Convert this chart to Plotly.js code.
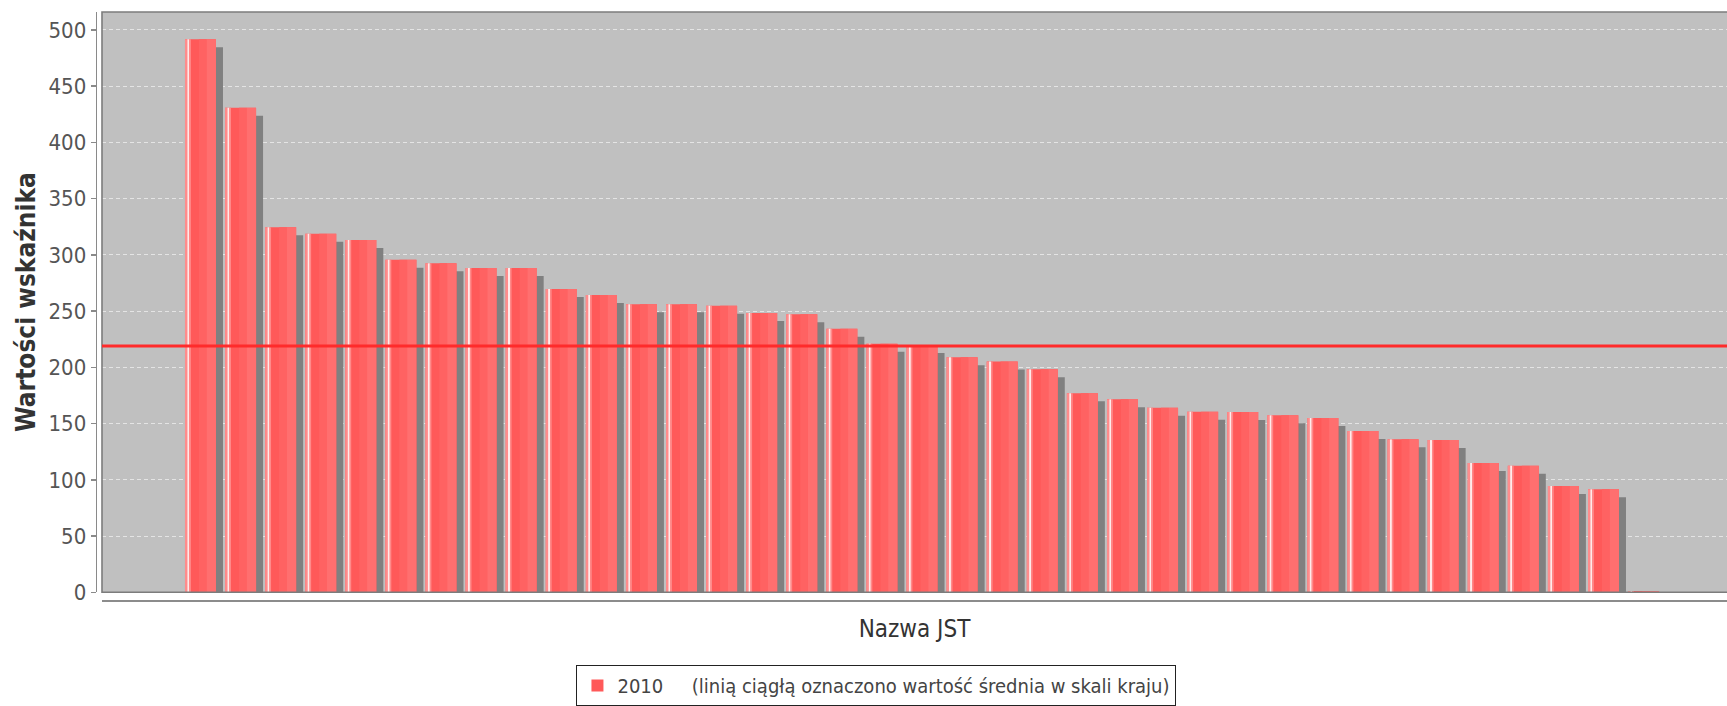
<!DOCTYPE html>
<html>
<head>
<meta charset="utf-8">
<script src="https://cdn.plot.ly/plotly-3.0.1.min.js"></script>
<style>
  html, body { margin: 0; padding: 0; background: #ffffff; }
  #chart { width: 1727px; height: 706px; }
</style>
</head>
<body>
<div id="chart"></div>
<script>
// ---- data ----
const categories = ["1","2","3","4","5","6","7","8","9","10","11","12","13","14","15","16","17","18","19",
  "20","21","22","23","24","25","26","27","28","29","30","31","32","33","34","35","36","37"];
const values2010 = [491.7, 430.9, 324.6, 318.9, 313.3, 295.7, 292.5, 288.4, 288.4, 269.7,
  264.3, 256.1, 256.1, 254.8, 248.4, 247.2, 234.4, 221.1, 219.8, 209.0,
  205.2, 198.3, 177.0, 171.6, 164.1, 160.6, 160.3, 157.4, 155.0, 143.4,
  136.0, 135.4, 115.0, 112.6, 94.5, 91.6, 1.2];
const nationalMean = 219.0;
const seriesName = "2010";
const legendNote = "(linią ciągłą oznaczono wartość średnia w skali kraju)";
const xAxisTitle = "Nazwa JST";
const yAxisTitle = "Wartości wskaźnika";
const yTicks = [0, 50, 100, 150, 200, 250, 300, 350, 400, 450, 500];

// ---- styling ----
const FONT = '"DejaVu Sans Condensed", "Liberation Sans", sans-serif';
const barW = 0.7733;          // bar width in category units
const shadowDX = 0.1746;      // shadow shift (category units)
const shadowDY = 7.12;        // shadow drop (value units)

function layer(x0frac, x1frac, color, extra) {
  return Object.assign({
    type: 'bar', x: categories, y: values2010,
    width: barW * (x1frac - x0frac),
    offset: -barW / 2 + barW * x0frac,
    marker: { color: color, line: { width: 0 } },
    hoverinfo: 'skip', showlegend: false
  }, extra || {});
}

const traces = [
  // shadow
  {
    type: 'bar', x: categories, y: values2010.map(v => Math.max(v - shadowDY, 0)),
    width: barW, offset: -barW / 2 + shadowDX,
    marker: { color: '#808080', line: { width: 0 } },
    hoverinfo: 'skip', showlegend: false
  },
  layer(0, 1, '#ff5959', { showlegend: true,
    name: seriesName + '\u00A0\u00A0\u00A0\u00A0\u00A0' + legendNote }),
  layer(0.45, 0.70, '#ff6262'),
  layer(0.70, 1.0, '#ff6f6f'),
  layer(0.0, 0.075, '#ff8c8c'),
  layer(0.075, 0.14, '#ffeaea'),
  layer(0.14, 0.19, '#ff8a8a')
];

const xDom0 = 102 / 1727;
const layout = {
  width: 1727, height: 706,
  margin: { l: 0, r: 0, t: 0, b: 0, pad: 0 },
  paper_bgcolor: '#ffffff',
  plot_bgcolor: '#c0c0c0',
  barmode: 'overlay',
  font: { family: FONT, color: '#444' },
  xaxis: {
    type: 'category', domain: [xDom0, 1], range: [-2.457, 38.081],
    anchor: 'free', position: 0.1494,
    showline: true, linecolor: '#8c8c8c', linewidth: 2,
    showgrid: false, zeroline: false, showticklabels: false, ticks: '',
    title: { text: xAxisTitle, font: { family: FONT, size: 24, color: '#333' }, standoff: 19 },
    fixedrange: true
  },
  yaxis: {
    domain: [0.16105, 0.983], range: [0, 516],
    anchor: 'free', position: 0.0554,
    showline: true, linecolor: '#8a8a8a', linewidth: 1.5,
    ticks: 'outside', ticklen: 5, tickwidth: 1.5, tickcolor: '#8a8a8a',
    tickmode: 'array', tickvals: yTicks, ticktext: yTicks.map(String),
    tickfont: { family: FONT, size: 22, color: '#555' },
    showgrid: true, gridcolor: '#e4e4e4', gridwidth: 1, griddash: '4px,3px',
    zeroline: false,
    title: { text: yAxisTitle, font: { family: FONT, size: 26, color: '#333', weight: 'bold' }, standoff: 4 },
    fixedrange: true
  },
  shapes: [
    { type: 'rect', xref: 'paper', yref: 'paper', x0: xDom0, x1: 1.01, y0: 0.16105, y1: 0.983,
      line: { color: '#7c7c7c', width: 1.6 }, fillcolor: 'rgba(0,0,0,0)', layer: 'above' },
    { type: 'line', xref: 'paper', yref: 'y', x0: xDom0, x1: 1, y0: nationalMean, y1: nationalMean,
      line: { color: '#ff2b2b', width: 3 }, layer: 'above' }
  ],
  showlegend: true,
  legend: {
    orientation: 'h', x: 0.5075, xanchor: 'center', y: 0.058, yanchor: 'top',
    bgcolor: '#ffffff', bordercolor: '#222', borderwidth: 1,
    font: { family: FONT, size: 20, color: '#444' },
    itemwidth: 30
  }
};

Plotly.newPlot('chart', traces, layout, { displayModeBar: false, staticPlot: true });
</script>
</body>
</html>
